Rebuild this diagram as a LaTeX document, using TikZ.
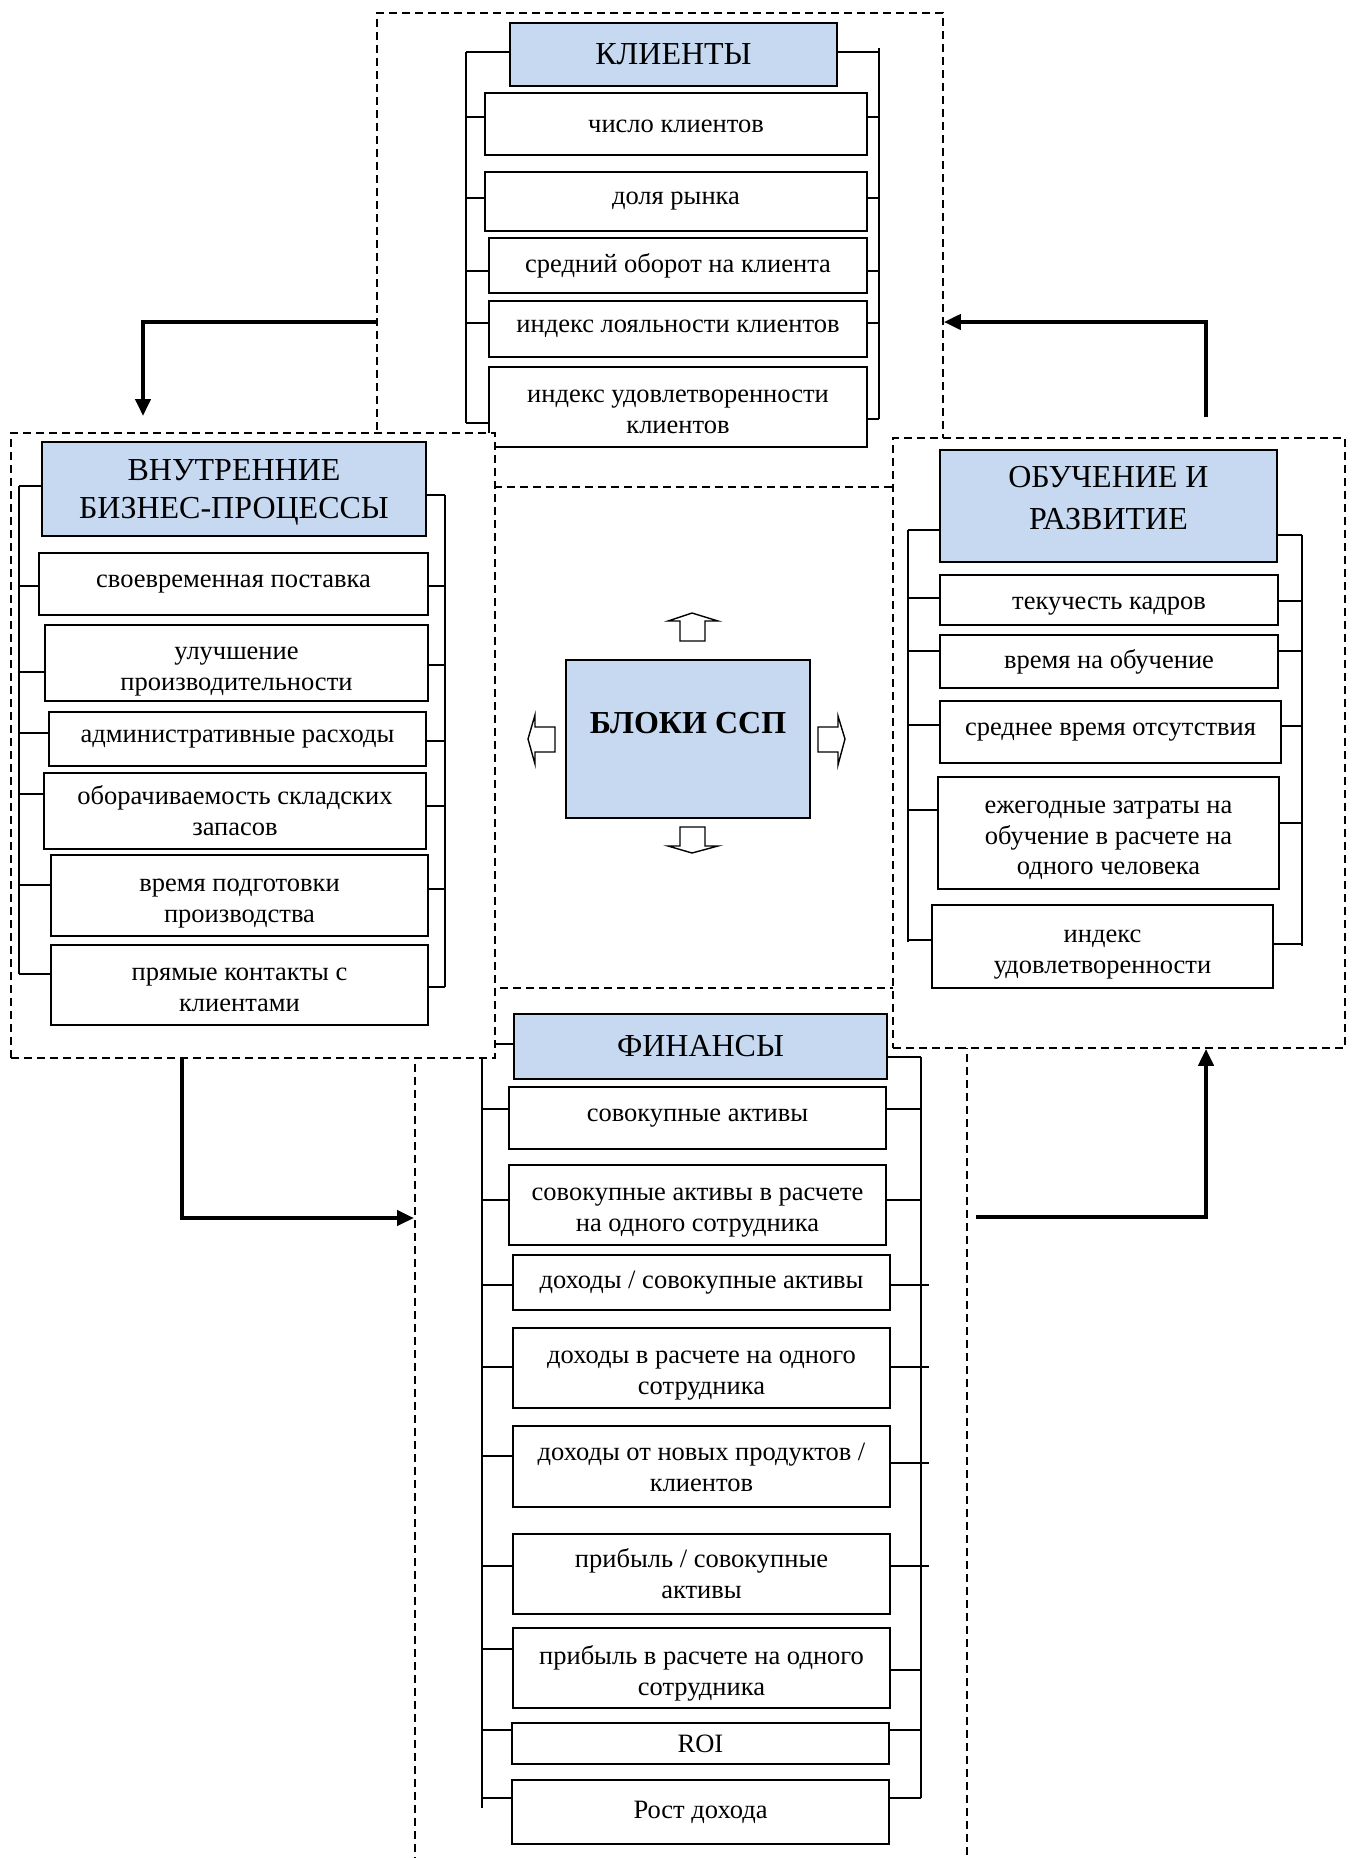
\documentclass[tikz,border=0pt]{standalone}
\usepackage{fontspec}
\setmainfont{Liberation Serif}
\usetikzlibrary{arrows.meta,calc}
\definecolor{hblue}{RGB}{198,217,240}
\newcommand{\bx}[7]{\node[#6, anchor=north west, minimum width={(#4-#2)*0.5pt}, minimum height={(#5-#3)*0.5pt}] (#1) at (#2,#3) {#7};}
\newcommand{\ls}[3]{\draw[conn] (#2 |- 0,#3) -- (#1.west |- 0,#3);}
\newcommand{\rs}[3]{\draw[conn] (#1.east |- 0,#3) -- (#2 |- 0,#3);}
\newcommand{\mvtext}[2]{\raisebox{#1}[\height][\depth]{\begin{tabular}{@{}c@{}}#2\end{tabular}}}
\tikzset{
  itembox/.style={draw, line width=1pt, fill=white, inner sep=0pt, align=center, font=\fontsize{13.25pt}{15.4pt}\selectfont},
  headbox/.style={itembox, fill=hblue, font=\fontsize{16pt}{19pt}\selectfont},
  dbox/.style={draw, dash pattern=on 4pt off 2.5pt, line width=0.9pt, fill=white, inner sep=0pt},
  conn/.style={line width=1pt},
  bigarrow/.style={line width=2pt, -{Triangle[length=8.5pt,width=7.5pt]}},
  blockarrow/.style={draw, line width=0.7pt, fill=white, line join=miter}
}
\begin{document}
\begin{tikzpicture}[x=0.5pt,y=-0.5pt]
\useasboundingbox (0,0) rectangle (1354,1858);
\fill[white] (0,0) rectangle (1354,1858);
% ---------- top: clients
\bx{topd}{376}{12}{942}{486}{dbox}{}
\bx{kh}{509}{22}{836}{85}{headbox}{КЛИЕНТЫ}
\bx{k1}{484}{92}{866}{154}{itembox}{\mvtext{-1pt}{число клиентов}}
\bx{k2}{484}{171}{866}{230}{itembox}{доля рынка}
\bx{k3}{488}{237}{866}{292}{itembox}{средний оборот на клиента}
\bx{k4}{488}{300}{866}{356}{itembox}{индекс лояльности клиентов}
\bx{k5}{488}{366}{866}{446}{itembox}{\mvtext{-2.5pt}{индекс удовлетворенности\\клиентов}}
\coordinate (kL) at (466,0);
\coordinate (kR) at (879,0);
\draw[conn] (kL |- 0,52) -- (kL |- 0,423);
\draw[conn] (kR |- 0,48) -- (kR |- 0,419);
\ls{kh}{kL}{52}\ls{k1}{kL}{117}\ls{k2}{kL}{198}\ls{k3}{kL}{271}\ls{k4}{kL}{323}\ls{k5}{kL}{423}
\rs{kh}{kR}{52}\rs{k1}{kR}{117}\rs{k2}{kR}{198}\rs{k3}{kR}{271}\rs{k4}{kR}{323}\rs{k5}{kR}{419}
% ---------- bottom: finance
\bx{botd}{414}{987}{966}{1900}{dbox}{}
\bx{fh}{513}{1013}{886}{1078}{headbox}{ФИНАНСЫ}
\bx{f1}{508}{1086}{885}{1148}{itembox}{совокупные активы}
\bx{f2}{508}{1164}{885}{1244}{itembox}{\mvtext{-2.5pt}{совокупные активы в расчете\\на одного сотрудника}}
\bx{f3}{512}{1254}{889}{1309}{itembox}{доходы / совокупные активы}
\bx{f4}{512}{1327}{889}{1407}{itembox}{\mvtext{-2.5pt}{доходы в расчете на одного\\сотрудника}}
\bx{f5}{512}{1425}{889}{1506}{itembox}{\mvtext{-1.5pt}{доходы от новых продуктов /\\клиентов}}
\bx{f6}{512}{1533}{889}{1613}{itembox}{прибыль / совокупные\\активы}
\bx{f7}{512}{1627}{889}{1707}{itembox}{\mvtext{-3pt}{прибыль в расчете на одного\\сотрудника}}
\bx{f8}{511}{1722}{888}{1763}{itembox}{ROI}
\bx{f9}{511}{1779}{888}{1843}{itembox}{Рост дохода}
\coordinate (fL) at (482,0);
\coordinate (fR) at (921,0);
\coordinate (fRo) at (929,0);
\draw[conn] (fL |- 0,1044) -- (fL |- 0,1808);
\draw[conn] (fR |- 0,1057) -- (fR |- 0,1798);
\ls{fh}{fL}{1044}\ls{f1}{fL}{1109}\ls{f2}{fL}{1200}\ls{f3}{fL}{1285}\ls{f4}{fL}{1367}
\ls{f5}{fL}{1456}\ls{f6}{fL}{1566}\ls{f7}{fL}{1649}\ls{f8}{fL}{1730}\ls{f9}{fL}{1798}
\rs{fh}{fR}{1057}\rs{f1}{fR}{1109}\rs{f2}{fR}{1200}\rs{f3}{fRo}{1285}\rs{f4}{fRo}{1367}
\rs{f5}{fRo}{1463}\rs{f6}{fRo}{1566}\rs{f7}{fR}{1670}\rs{f8}{fR}{1730}\rs{f9}{fR}{1798}
% ---------- left: internal processes
\bx{leftd}{10}{432}{494}{1057}{dbox}{}
\bx{bh}{41}{441}{425}{535}{headbox}{\mvtext{-1.5pt}{ВНУТРЕННИЕ\\БИЗНЕС-ПРОЦЕССЫ}}
\bx{b1}{38}{552}{427}{614}{itembox}{своевременная поставка}
\bx{b2}{44}{624}{427}{700}{itembox}{\mvtext{-3pt}{улучшение\\производительности}}
\bx{b3}{48}{711}{425}{765}{itembox}{административные расходы}
\bx{b4}{43}{772}{425}{848}{itembox}{\mvtext{-1.5pt}{оборачиваемость складских\\запасов}}
\bx{b5}{50}{854}{427}{935}{itembox}{\mvtext{-2.5pt}{время подготовки\\производства}}
\bx{b6}{50}{944}{427}{1024}{itembox}{\mvtext{-2.5pt}{прямые контакты с\\клиентами}}
\coordinate (bL) at (19,0);
\coordinate (bR) at (445,0);
\draw[conn] (bL |- 0,486) -- (bL |- 0,974);
\draw[conn] (bR |- 0,495) -- (bR |- 0,987);
\ls{bh}{bL}{486}\ls{b1}{bL}{586}\ls{b2}{bL}{672}\ls{b3}{bL}{733}\ls{b4}{bL}{794}\ls{b5}{bL}{885}\ls{b6}{bL}{974}
\rs{bh}{bR}{495}\rs{b1}{bR}{586}\rs{b2}{bR}{665}\rs{b3}{bR}{741}\rs{b4}{bR}{806}\rs{b5}{bR}{889}\rs{b6}{bR}{987}
% ---------- right: learning and growth
\bx{rightd}{892}{437}{1344}{1047}{dbox}{}
\bx{oh}{939}{449}{1276}{561}{headbox, font=\fontsize{16pt}{21pt}\selectfont}{\mvtext{3pt}{ОБУЧЕНИЕ И\\РАЗВИТИЕ}}
\bx{o1}{939}{574}{1277}{624}{itembox}{\mvtext{-1.5pt}{текучесть кадров}}
\bx{o2}{939}{634}{1277}{687}{itembox}{время на обучение}
\bx{o3}{939}{700}{1280}{762}{itembox}{среднее время отсутствия}
\bx{o4}{937}{776}{1278}{888}{itembox}{\mvtext{-2.5pt}{ежегодные затраты на\\обучение в расчете на\\одного человека}}
\bx{o5}{931}{904}{1272}{987}{itembox}{\mvtext{-2.5pt}{индекс\\удовлетворенности}}
\coordinate (oL) at (908,0);
\coordinate (oR) at (1302,0);
\draw[conn] (oL |- 0,530) -- (oL |- 0,942);
\draw[conn] (oR |- 0,535) -- (oR |- 0,946);
\ls{oh}{oL}{530}\ls{o1}{oL}{598}\ls{o2}{oL}{651}\ls{o3}{oL}{725}\ls{o4}{oL}{810}\ls{o5}{oL}{940}
\rs{oh}{oR}{535}\rs{o1}{oR}{601}\rs{o2}{oR}{651}\rs{o3}{oR}{726}\rs{o4}{oR}{823}\rs{o5}{oR}{944}
% ---------- centre
\bx{ssp}{565}{659}{809}{817}{headbox}{\smash{\raisebox{3pt}{\bfseries БЛОКИ ССП}}}
\draw[blockarrow] (680,641) -- (680,621) -- (668,621) -- (692,613) -- (718,621) -- (705,621) -- (705,641) -- cycle;
\draw[blockarrow] (680,827) -- (705,827) -- (705,846) -- (718,846) -- (692,853) -- (668,846) -- (680,846) -- cycle;
\draw[blockarrow] (555,727) -- (535,727) -- (535,715) -- (528,739) -- (535,764) -- (535,752) -- (555,752) -- cycle;
\draw[blockarrow] (818,727) -- (838,727) -- (838,716) -- (845,739) -- (838,765) -- (838,752) -- (818,752) -- cycle;
% ---------- cycle arrows
\draw[bigarrow, shorten >=8pt] (topd.west |- 0,322) -| (leftd.north -| 143,0);
\draw[bigarrow] (leftd.south -| 182,0) |- (botd.west |- 0,1218);
\draw[bigarrow] ($(botd.east |- 0,1217)+(8,0)$) -| (rightd.south -| 1206,0);
\draw[bigarrow] ($(rightd.north -| 1206,0)+(0,-20)$) |- (topd.east |- 0,322);
\end{tikzpicture}
\end{document}
